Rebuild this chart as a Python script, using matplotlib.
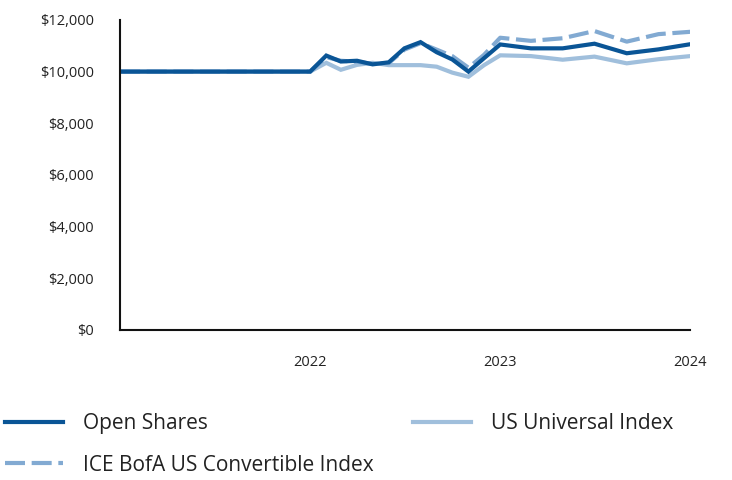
import pandas as pd
import matplotlib.pyplot as plt
import matplotlib.dates as mdates
from matplotlib.ticker import FuncFormatter

plt.rcParams['font.family'] = ['Open Sans', 'DejaVu Sans']

# Growth of $10,000
dates = pd.to_datetime([
    "2021-01-01", "2022-01-01", "2022-02-01", "2022-03-01", "2022-04-01",
    "2022-05-01", "2022-06-01", "2022-07-01", "2022-08-01", "2022-09-01",
    "2022-10-01", "2022-11-01", "2022-12-01", "2023-01-01", "2023-03-01",
    "2023-05-01", "2023-07-01", "2023-09-01", "2023-11-01", "2024-01-01",
])
open_shares = [10000, 10000, 10620, 10390, 10420, 10280, 10360, 10900, 11140,
               10750, 10470, 10000, 10520, 11050, 10900, 10900, 11080, 10710,
               10860, 11060]
us_universal = [10000, 10000, 10340, 10070, 10260, 10340, 10250, 10250, 10250,
                10190, 9960, 9800, 10250, 10630, 10600, 10460, 10580, 10320,
                10480, 10600]
ice_convertible = [10000, 10000, 10560, 10420, 10380, 10300, 10330, 10850, 11100,
                   10850, 10600, 10150, 10650, 11310, 11190, 11290, 11570, 11160,
                   11450, 11540]

dark = "#0a5596"
light = "#a0bfdc"
dashed = "#82aad2"

fig = plt.figure(figsize=(7.32, 4.80), dpi=100)
ax = fig.add_axes([0.164, 0.3125, 0.779, 0.646])

l_univ, = ax.plot(dates, us_universal, color=light, lw=3, solid_joinstyle="miter")
l_ice, = ax.plot(dates, ice_convertible, color=dashed, lw=3, linestyle=(0, (4.8, 1.6)))
l_open, = ax.plot(dates, open_shares, color=dark, lw=3, solid_joinstyle="miter")

ax.set_ylim(0, 12000)
ax.set_yticks(range(0, 12001, 2000))
ax.yaxis.set_major_formatter(FuncFormatter(lambda v, p: f"${v:,.0f}"))
ax.set_xlim(pd.Timestamp("2021-01-01"), pd.Timestamp("2024-01-01"))
ax.set_xticks(pd.to_datetime(["2022-01-01", "2023-01-01", "2024-01-01"]))
ax.xaxis.set_major_formatter(mdates.DateFormatter("%Y"))

for s in ["top", "right"]:
    ax.spines[s].set_visible(False)
for s in ["left", "bottom"]:
    ax.spines[s].set_linewidth(1.5)
    ax.spines[s].set_color("#111111")
ax.tick_params(axis="y", length=0, pad=19, labelsize=10.5, labelcolor="#222222")
ax.tick_params(axis="x", length=0, pad=18, labelsize=10.5, labelcolor="#222222")

# Legend entries placed individually
legend_opts = dict(loc="center left", frameon=False, fontsize=15, borderpad=0,
                   borderaxespad=0, handlelength=2.8, handletextpad=0.95)
lg1 = fig.legend([l_open], ["Open Shares"], bbox_to_anchor=(0.007, 0.117), **legend_opts)
lg2 = fig.legend([l_univ], ["US Universal Index"], bbox_to_anchor=(0.564, 0.117), **legend_opts)
lg3 = fig.legend([l_ice], ["ICE BofA US Convertible Index"], bbox_to_anchor=(0.007, 0.031), **legend_opts)
for lg in (lg1, lg2, lg3):
    for t in lg.get_texts():
        t.set_color("#222222")

plt.savefig("out.png", dpi=100)
